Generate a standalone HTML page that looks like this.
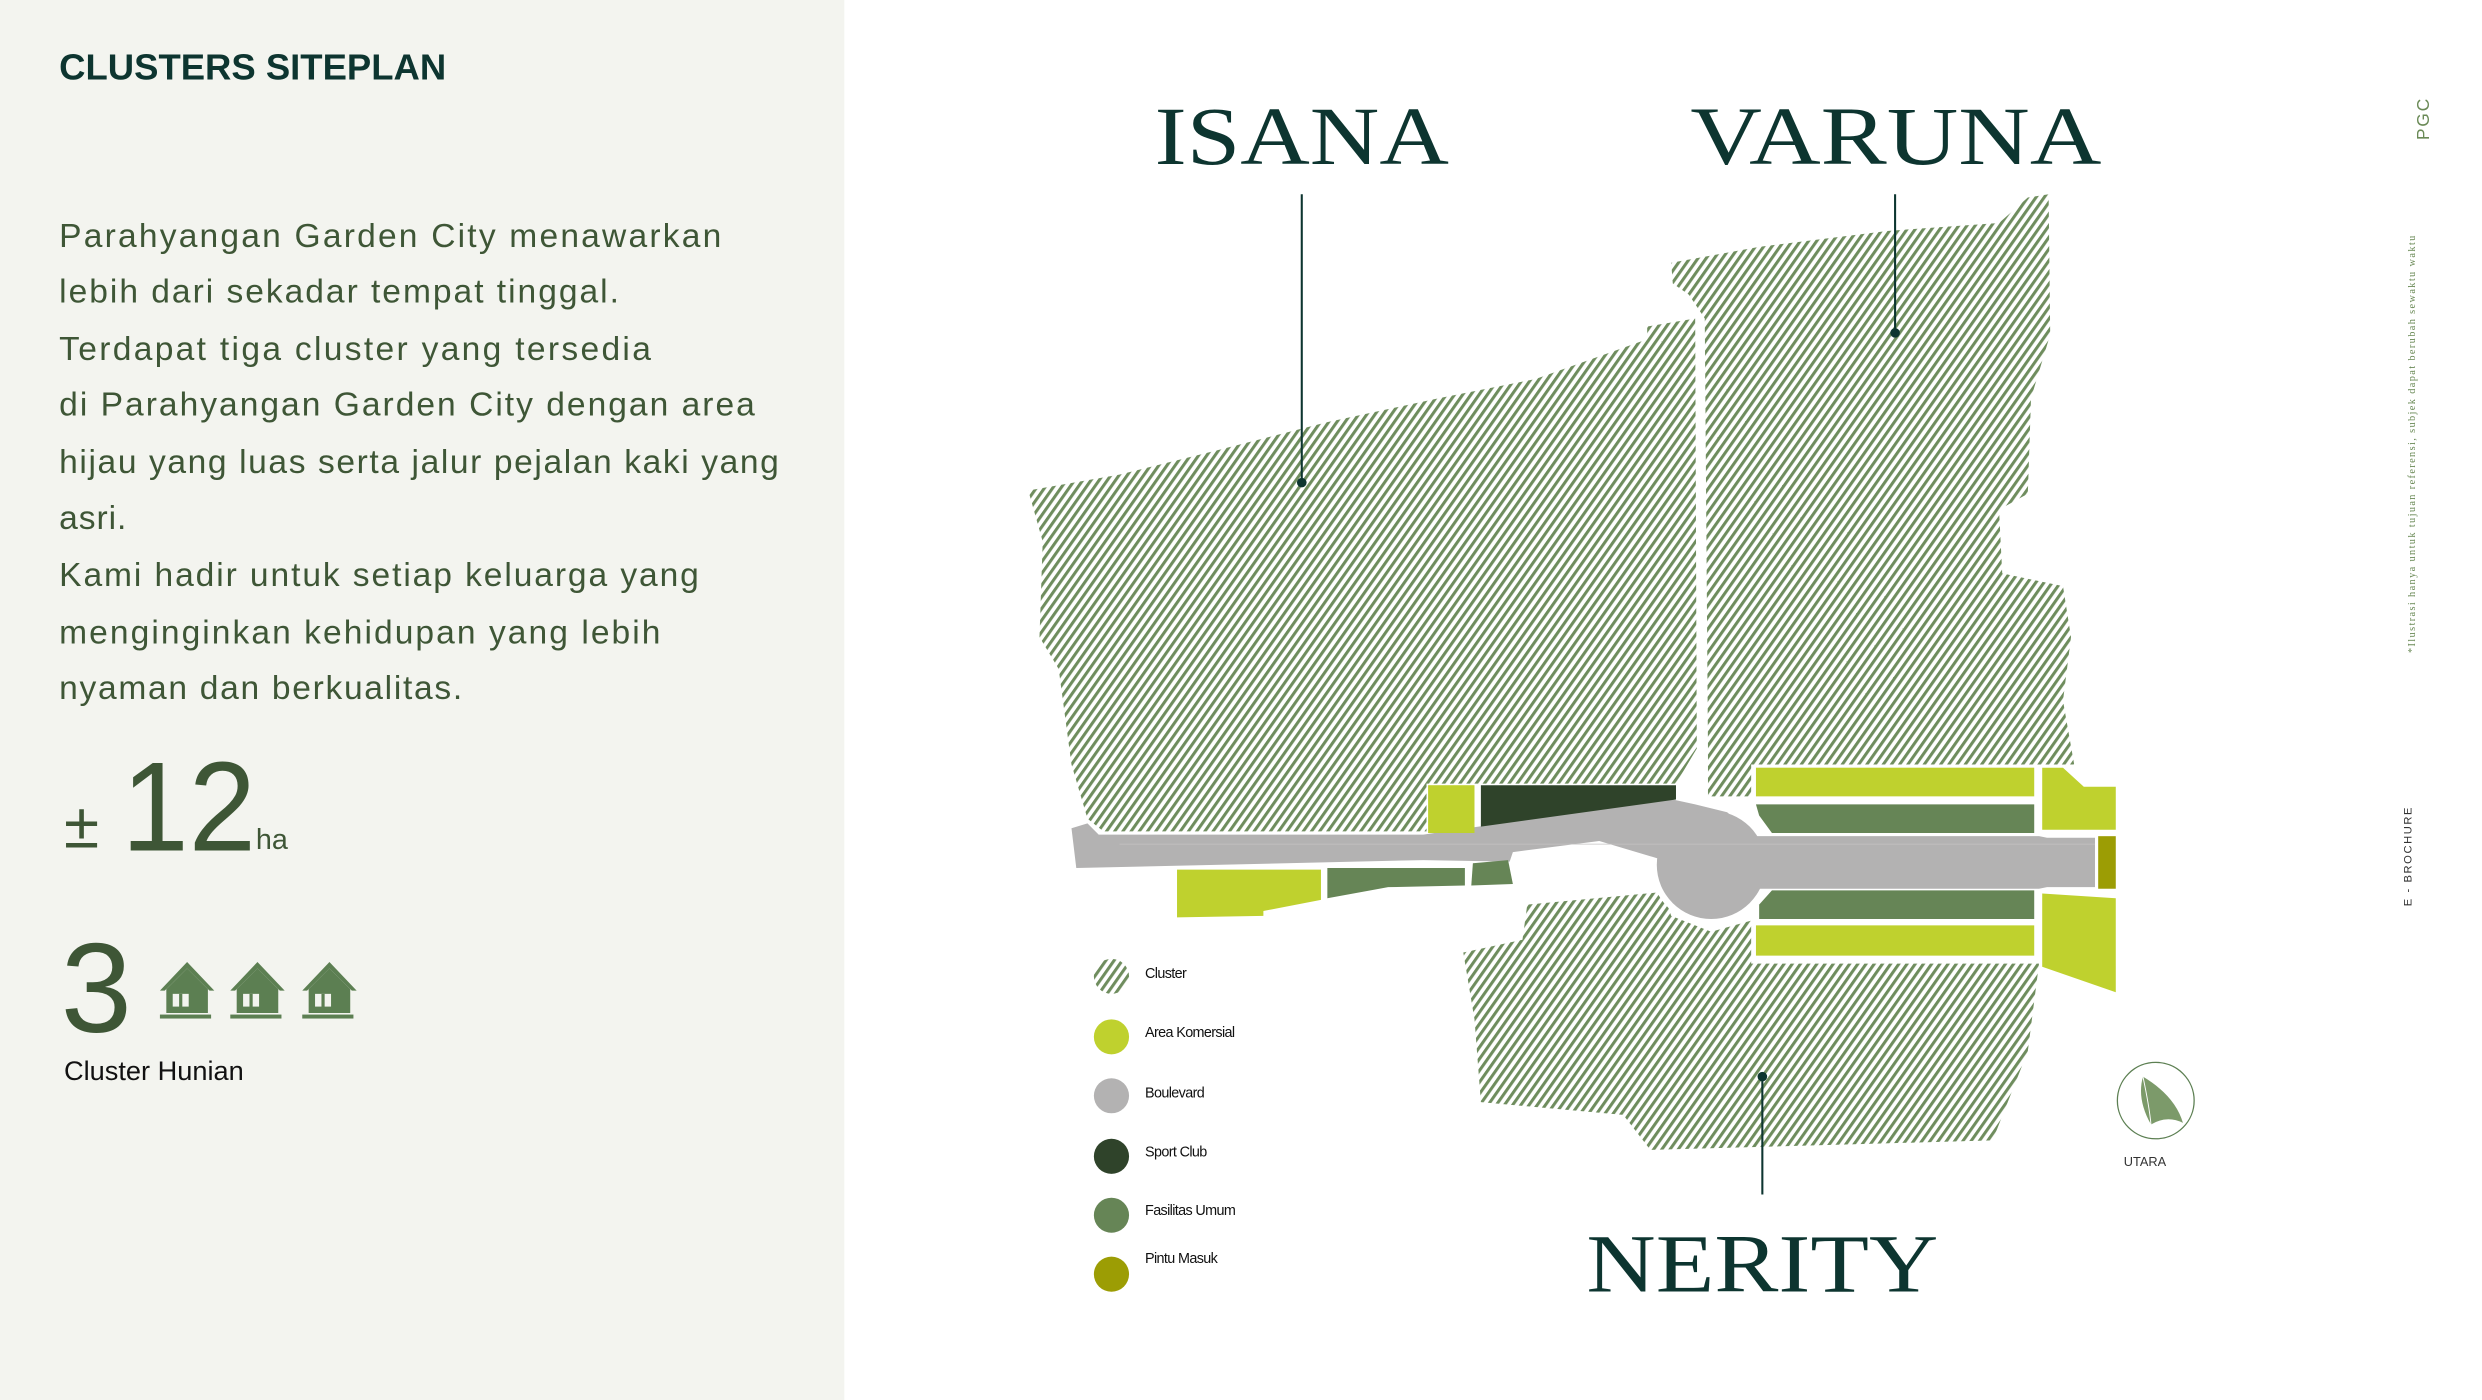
<!DOCTYPE html>
<html><head><meta charset="utf-8"><style>
html,body{margin:0;padding:0;background:#fff;}
svg{display:block;}
</style></head><body>
<svg width="2482" height="1400" viewBox="0 0 1552 879" preserveAspectRatio="none" xmlns="http://www.w3.org/2000/svg">
<defs>
<pattern id="h" patternUnits="userSpaceOnUse" width="4.2" height="4.2" patternTransform="rotate(35)">
<rect width="4.2" height="4.2" fill="#fff"/>
<rect width="1.9" height="4.2" fill="#6f8d5e"/>
</pattern>
</defs>
<rect x="0" y="0" width="528" height="879" fill="#f3f4ef"/>
<rect x="528" y="0" width="1024" height="879" fill="#fff"/>

<text x="37" y="50" font-family="Liberation Sans, sans-serif" font-weight="bold" font-size="22.5" fill="#0d3530" textLength="242" lengthAdjust="spacingAndGlyphs">CLUSTERS SITEPLAN</text>
<g font-family="Liberation Sans, sans-serif" font-size="21" fill="#3e5636">
<text x="37" y="155" textLength="414">Parahyangan Garden City menawarkan</text>
<text x="37" y="190" textLength="350">lebih dari sekadar tempat tinggal.</text>
<text x="37" y="226" textLength="370">Terdapat tiga cluster yang tersedia</text>
<text x="37" y="261" textLength="435">di Parahyangan Garden City dengan area</text>
<text x="37" y="297" textLength="450">hijau yang luas serta jalur pejalan kaki yang</text>
<text x="37" y="332" textLength="42">asri.</text>
<text x="37" y="368" textLength="400">Kami hadir untuk setiap keluarga yang</text>
<text x="37" y="404" textLength="376">menginginkan kehidupan yang lebih</text>
<text x="37" y="439" textLength="252">nyaman dan berkualitas.</text>
</g>
<text x="40" y="532" font-family="Liberation Sans, sans-serif" font-size="40" fill="#3e5636">±</text>
<text x="76" y="534" font-family="Liberation Sans, sans-serif" font-size="80" fill="#3e5636" textLength="84" lengthAdjust="spacingAndGlyphs">12</text>
<text x="160" y="533" font-family="Liberation Sans, sans-serif" font-size="18" fill="#3e5636">ha</text>
<text x="38" y="648" font-family="Liberation Sans, sans-serif" font-size="80" fill="#3e5636">3</text>
<g fill="#5c7f52">
<g id="hs"><path d="M100 622 L117 604 L134 622 L131 622 L117 608 L103 622Z"/><path d="M104 621 L117 608 L130 621 L130 636 L104 636Z"/><rect x="100" y="637" width="32" height="2.5"/><rect x="108" y="624" width="10" height="8" fill="#f3f4ef"/><rect x="112" y="624" width="2" height="12"/></g>
<use href="#hs" x="44"/><use href="#hs" x="89"/>
</g>
<text x="40" y="678" font-family="Liberation Sans, sans-serif" font-size="17" fill="#111">Cluster Hunian</text>

<!-- clusters -->
<path fill="url(#h)" d="M643 308 L700 298 L760 283 L830 265 L900 250 L960 238 L1030 213 L1030 205 L1060 200 L1061 470 L1048 492 L892 492 L892 522 L690 522 L680 514 L670 480 L662 420 L650 400 L652 340Z"/>
<path fill="url(#h)" d="M1045 165 L1100 155 L1180 145 L1250 140 L1268 124 L1281 122 L1282 210 L1270 250 L1268 310 L1250 320 L1252 360 L1290 368 L1295 400 L1290 440 L1297 480 L1095 480 L1095 500 L1068 500 L1068 470 L1066 200 L1056 185 L1046 178Z"/>
<path fill="url(#h)" d="M955 568 L1040 560 L1045 575 L1070 585 L1095 578 L1095 605 L1275 605 L1268 660 L1246 716 L1032 722 L1015 700 L926 692 L922 640 L915 598 L952 590Z"/>

<!-- boulevard -->
<circle cx="1070" cy="543" r="38" fill="#fff"/>
<path fill="#b3b2b2" d="M670 520 L680 517 L687 524 L890 524 L1000 508 L1046 502 L1060 505 L1080 510 L1097 525 L1275 525 L1280 526 L1310 526 L1310 557 L1280 557 L1275 558 L1097 558 L1080 560 L1040 540 L1000 528 L946 535 L944 541 L890 540 L673 545Z"/>
<circle cx="1070" cy="543" r="34" fill="#b3b2b2"/>
<line x1="700" y1="530" x2="1310" y2="530" stroke="#c4c3c3" stroke-width="0.5"/>
<!-- parcels -->
<rect x="893" y="493" width="29" height="30" fill="#bfd12e"/>
<path fill="#2f432a" d="M926 493 L1048 493 L1048 502 L926 519Z"/>
<rect x="1098" y="482" width="174" height="18" fill="#bfd12e"/>
<path fill="#668556" d="M1098 505 L1272 505 L1272 523 L1108 523 L1100 512Z"/>
<path fill="#bfd12e" d="M1277 482 L1290 482 L1303 494 L1323 494 L1323 521 L1277 521Z"/>
<rect x="1312" y="525" width="11" height="33" fill="#9c9d04"/>
<path fill="#668556" d="M1108 559 L1272 559 L1272 577 L1100 577 L1100 568Z"/>
<rect x="1098" y="581" width="174" height="19" fill="#bfd12e"/>
<path fill="#bfd12e" d="M1277 561 L1323 564 L1323 623 L1277 607Z"/>
<path fill="#bfd12e" d="M736 546 L826 546 L826 565 L790 572 L790 575 L736 576Z"/>
<path fill="#668556" d="M830 545 L916 545 L916 556 L868 557 L830 564Z"/>
<path fill="#668556" d="M921 542 L943 540 L946 555 L920 556Z"/>

<!-- labels -->
<g font-family="Liberation Serif, serif" fill="#0d3530">
<text x="722" y="103" font-size="52" textLength="184" lengthAdjust="spacingAndGlyphs">ISANA</text>
<text x="1057" y="103" font-size="52" textLength="257" lengthAdjust="spacingAndGlyphs">VARUNA</text>
<text x="992" y="811" font-size="52" textLength="220" lengthAdjust="spacingAndGlyphs">NERITY</text>
</g>
<g stroke="#0d3530" stroke-width="1.3">
<line x1="814" y1="122" x2="814" y2="303"/><line x1="1185" y1="122" x2="1185" y2="209"/><line x1="1102" y1="676" x2="1102" y2="750"/>
</g>
<g fill="#0d3530"><circle cx="814" cy="303" r="3"/><circle cx="1185" cy="209" r="3"/><circle cx="1102" cy="676" r="3"/></g>

<!-- legend -->
<circle cx="695" cy="613" r="11" fill="url(#h)"/>
<circle cx="695" cy="651" r="11" fill="#bfd12e"/>
<circle cx="695" cy="688" r="11" fill="#b3b2b2"/>
<circle cx="695" cy="726" r="11" fill="#2f432a"/>
<circle cx="695" cy="763" r="11" fill="#668556"/>
<circle cx="695" cy="800" r="11" fill="#9c9d04"/>
<g font-family="Liberation Sans, sans-serif" font-size="9" fill="#111" letter-spacing="-0.4">
<text x="716" y="614">Cluster</text><text x="716" y="651">Area Komersial</text><text x="716" y="689">Boulevard</text><text x="716" y="726">Sport Club</text><text x="716" y="763">Fasilitas Umum</text><text x="716" y="793">Pintu Masuk</text>
</g>

<!-- compass -->
<circle cx="1348" cy="691" r="24" fill="#fff" stroke="#5c7f52" stroke-width="0.8"/>
<path d="M1340 676 Q1360 688 1365 705 Q1355 700 1345 706 Q1336 690 1340 676Z" fill="#7c9a6a"/>
<path d="M1340 676 Q1344 695 1345 706" stroke="#fff" stroke-width="0.6" fill="none"/>
<text x="1328" y="732" font-family="Liberation Sans, sans-serif" font-size="8" fill="#333">UTARA</text>

<!-- right vertical -->
<g font-family="Liberation Sans, sans-serif" fill="#6a8a56">
<text transform="translate(1519,88) rotate(-90)" font-size="11" textLength="26">PGC</text>
<text transform="translate(1510,410) rotate(-90)" font-size="6.5" font-family="Liberation Serif, serif" textLength="262">*Ilustrasi hanya untuk tujuan referensi, subjek dapat berubah sewaktu waktu</text>
</g>
<text transform="translate(1508,569) rotate(-90)" font-family="Liberation Sans, sans-serif" font-size="7" fill="#333" textLength="62">E - BROCHURE</text>
</svg>
</body></html>
